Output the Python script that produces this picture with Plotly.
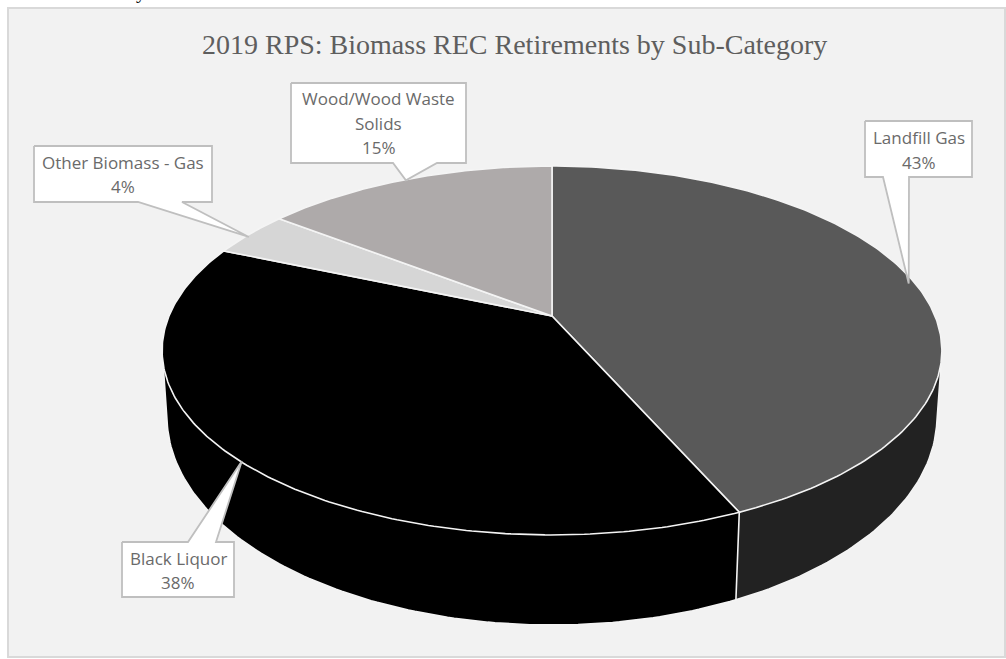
import numpy as np
import plotly.graph_objects as go

# ---- data ----
categories = ["Landfill Gas", "Black Liquor", "Other Biomass - Gas", "Wood/Wood Waste Solids"]
values = [43.4, 38.1, 4.0, 14.6]
percent_labels = ["43%", "38%", "4%", "15%"]
label_lines = [["Landfill Gas"], ["Black Liquor"], ["Other Biomass - Gas"], ["Wood/Wood Waste", "Solids"]]
title_text = "2019 RPS: Biomass REC Retirements by Sub-Category"

# ---- styles ----
top_colors = ["#595959", "#000000", "#D6D6D6", "#AEAAAA"]
side_colors = ["#222222", "#000000", "#A0A0A0", "#7F7C7C"]
W, H = 1006, 659

# ---- perspective model of the tilted disc: (centre y, k, a, b) ----
CX = 552.0
TOP_DISC = (316.0, 0.187, 178.0, 383.0)
FLOOR_DISC = (379.4, 0.181, 201.2, 378.6)


def project(theta, disc=TOP_DISC):
    cy, k, a, b = disc
    u, v = np.sin(theta), np.cos(theta)
    d = 1 + k * v
    return CX + b * u / d, cy - a * v / d


def convex_hull(xs, ys):
    pts = sorted(set(zip(np.round(xs, 3).tolist(), np.round(ys, 3).tolist())))

    def half(seq):
        out = []
        for p in seq:
            while len(out) >= 2:
                (ax, ay), (bx, by) = out[-2], out[-1]
                if (bx - ax) * (p[1] - ay) - (by - ay) * (p[0] - ax) <= 0:
                    out.pop()
                else:
                    break
            out.append(p)
        return out

    lower, upper = half(pts), half(pts[::-1])
    ring = lower[:-1] + upper[:-1]
    ring.append(ring[0])
    return [p[0] for p in ring], [p[1] for p in ring]


fractions = np.cumsum([0] + values) / sum(values)
angles = 2 * np.pi * fractions

# ---- callouts ----
boxes = [
    dict(x0=865, x1=972, y0=121, y1=177, b0=883, b1=909, edge="bottom", tip=(-4, 3), dy=1),
    dict(x0=122, x1=234, y0=542, y1=597, b0=188, b1=216, edge="top", tip=(0, -1), dy=1),
    dict(x0=34, x1=212, y0=146, y1=202, b0=138, b1=182, edge="bottom", tip=(-1, 3), dy=0.5),
    dict(x0=291, x1=466, y0=83, y1=163, b0=393, b1=437, edge="bottom", tip=(-1, 1), dy=0),
]
LINE_STEP = 24.5

fig = go.Figure()

# side walls: each slice's wall is the hull of its upper and lower rim
for i in range(len(values)):
    t = np.linspace(angles[i], angles[i + 1], 160)
    xt, yt = project(t)
    xb, yb = project(t, FLOOR_DISC)
    hx, hy = convex_hull(np.r_[xt, xb], np.r_[yt, yb])
    fig.add_trace(go.Scatter(
        x=hx, y=hy, mode="lines", fill="toself", fillcolor=side_colors[i],
        line=dict(color="#F4F4F4", width=1.6), hoverinfo="skip", showlegend=False))

# top faces
for i, name in enumerate(categories):
    t = np.linspace(angles[i], angles[i + 1], 200)
    xt, yt = project(t)
    fig.add_trace(go.Scatter(
        x=np.r_[CX, xt, CX], y=np.r_[TOP_DISC[0], yt, TOP_DISC[0]],
        mode="lines", fill="toself", fillcolor=top_colors[i],
        line=dict(color="#F4F4F4", width=1.6), name=name,
        text=f"{name}: {percent_labels[i]}", hoverinfo="text", showlegend=False))

# callouts
annotations = []
for i, b in enumerate(boxes):
    mid = (angles[i] + angles[i + 1]) / 2
    tx, ty = project(mid)
    tx, ty = tx + b["tip"][0], ty + b["tip"][1]
    if b["edge"] == "bottom":
        px = [b["x0"], b["x1"], b["x1"], b["b1"], tx, b["b0"], b["x0"], b["x0"]]
        py = [b["y0"], b["y0"], b["y1"], b["y1"], ty, b["y1"], b["y1"], b["y0"]]
    else:
        px = [b["x0"], b["b0"], tx, b["b1"], b["x1"], b["x1"], b["x0"], b["x0"]]
        py = [b["y0"], b["y0"], ty, b["y0"], b["y0"], b["y1"], b["y1"], b["y0"]]
    fig.add_trace(go.Scatter(
        x=px, y=py, mode="lines", fill="toself", fillcolor="#FFFFFF",
        line=dict(color="#BFBFBF", width=1.8), hoverinfo="skip", showlegend=False))
    lines = label_lines[i] + [percent_labels[i]]
    yc = (b["y0"] + b["y1"]) / 2 + b["dy"]
    for j, line in enumerate(lines):
        annotations.append(dict(
            x=(b["x0"] + b["x1"]) / 2, y=yc + (j - (len(lines) - 1) / 2) * LINE_STEP,
            xref="x", yref="y", text=line, showarrow=False,
            xanchor="center", yanchor="middle",
            font=dict(family="Open Sans", size=17, color="#6A6A6A")))

annotations.append(dict(
    x=514, y=44, xref="x", yref="y", text=title_text, showarrow=False,
    xanchor="center", yanchor="middle",
    font=dict(family="Liberation Serif", size=28, color="#5E5E5E")))
# clipped tail of the line of text above the chart
annotations.append(dict(
    x=141 / W, y=1 + 8.5 / H, xref="paper", yref="paper", text="y", showarrow=False,
    xanchor="center", yanchor="middle",
    font=dict(family="Liberation Serif", size=20, color="#111111")))

fig.update_layout(
    width=W, height=H, margin=dict(l=0, r=0, t=0, b=0),
    paper_bgcolor="#FFFFFF", plot_bgcolor="#FFFFFF", showlegend=False,
    xaxis=dict(range=[0, W], visible=False, fixedrange=True),
    yaxis=dict(range=[H, 0], visible=False, fixedrange=True),
    shapes=[dict(type="rect", xref="x", yref="y", x0=8, x1=1005, y0=8, y1=657,
                 fillcolor="#F2F2F2", line=dict(color="#D9D9D9", width=2), layer="below")],
    annotations=annotations,
)

fig.write_html("out.html", config=dict(displayModeBar=False),
               post_script="document.body.style.margin='0';document.body.style.overflow='hidden';")
